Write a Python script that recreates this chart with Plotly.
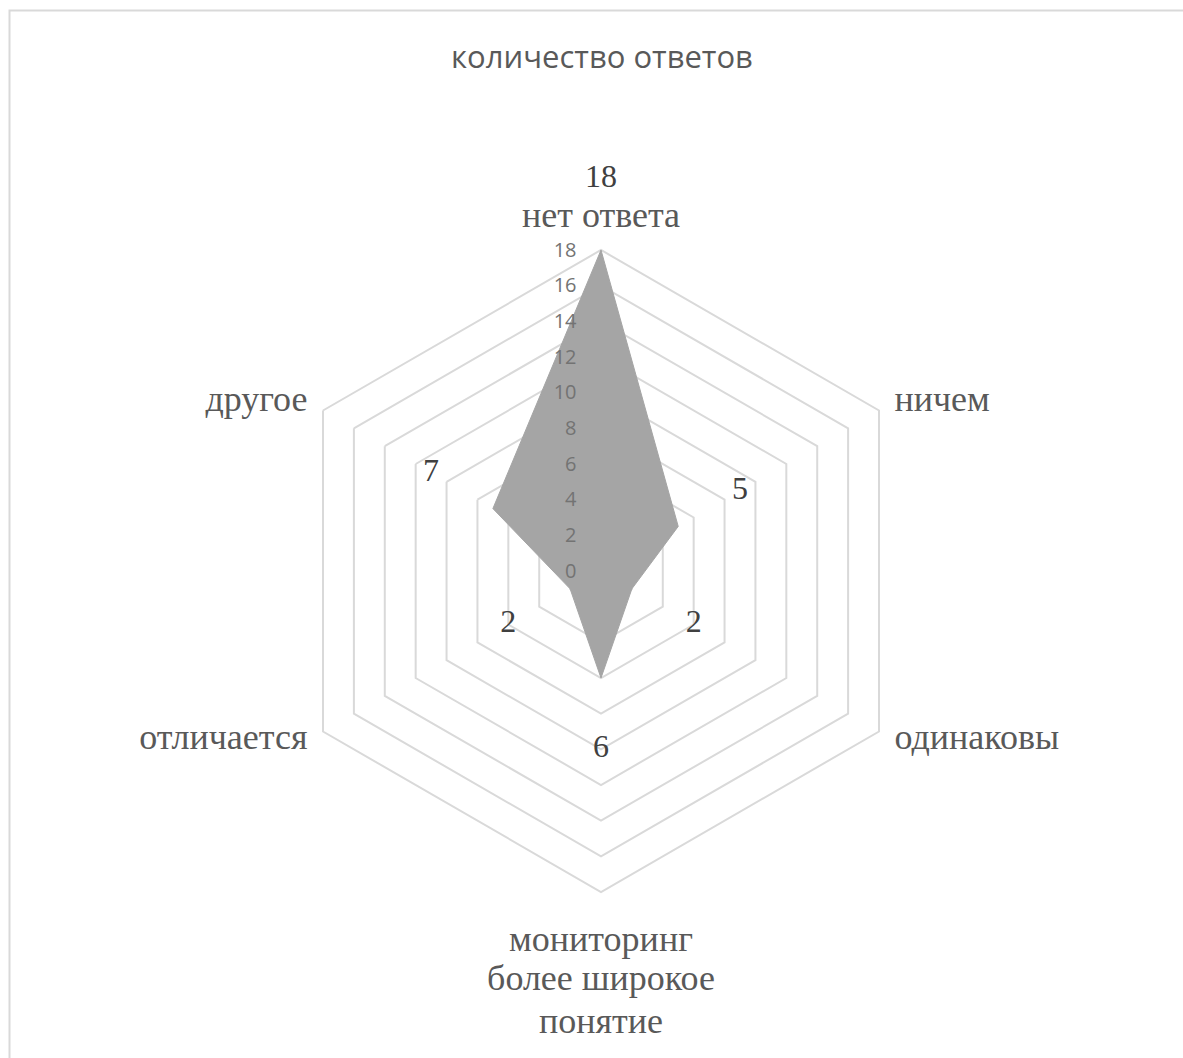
import plotly.graph_objects as go

categories = ["нет ответа", "ничем", "одинаковы", "мониторинг более широкое понятие", "отличается", "другое"]
values = [18, 5, 2, 6, 2, 7]
radial_ticks = [0, 2, 4, 6, 8, 10, 12, 14, 16, 18]
title_text = "количество ответов"

# category label lines (the bottom category is wrapped over three lines)
label_theta = ["нет ответа", "ничем", "одинаковы",
               "мониторинг более широкое понятие", "мониторинг более широкое понятие", "мониторинг более широкое понятие",
               "отличается", "другое"]
label_text = ["нет ответа", "ничем", "одинаковы", "мониторинг", "более широкое", "понятие", "отличается", "другое"]
# label placement (radial units / anchors) -- styling, not data
label_r = [19.8, 19.0, 19.0, 20.8, 23.0, 25.4, 19.0, 19.0]
label_pos = ["middle center", "middle right", "middle right", "middle center", "middle center", "middle center",
             "middle left", "middle left"]
value_label_offset = 4.0

fig = go.Figure()

fig.add_trace(go.Scatterpolar(
    r=values + [values[0]],
    theta=categories + [categories[0]],
    mode="lines",
    fill="toself",
    fillcolor="#A5A5A5",
    line=dict(color="#A5A5A5", width=1),
    hoverinfo="skip",
    showlegend=False,
))

# value labels
fig.add_trace(go.Scatterpolar(
    r=[v + value_label_offset for v in values],
    theta=categories,
    mode="text",
    text=[str(v) for v in values],
    textfont=dict(family="Liberation Serif", size=32, color="#404040"),
    textposition="middle center",
    cliponaxis=False,
    hoverinfo="skip",
    showlegend=False,
))

# category labels
fig.add_trace(go.Scatterpolar(
    r=label_r,
    theta=label_theta,
    mode="text",
    text=label_text,
    textfont=dict(family="Liberation Serif", size=36, color="#595959"),
    textposition=label_pos,
    cliponaxis=False,
    hoverinfo="skip",
    showlegend=False,
))

W, H = 1183, 1058
cx, cy, R18 = 601, 571, 321
rmax = 26
R = R18 * rmax / 18

fig.update_layout(
    width=W, height=H,
    margin=dict(l=0, r=0, t=0, b=0),
    paper_bgcolor="white",
    plot_bgcolor="white",
    showlegend=False,
    title=dict(text=title_text, x=602 / W, xanchor="center", y=1 - 57 / H, yanchor="middle",
               font=dict(family="Open Sans", size=31, color="#595959")),
    polar=dict(
        domain=dict(x=[(cx - R) / W, (cx + R) / W], y=[(H - cy - R) / H, (H - cy + R) / H]),
        bgcolor="rgba(0,0,0,0)",
        gridshape="linear",
        radialaxis=dict(
            range=[0, rmax],
            tickvals=radial_ticks,
            ticktext=[str(t) for t in radial_ticks],
            showline=False,
            ticks="outside",
            ticklen=17,
            tickcolor="rgba(0,0,0,0)",
            showgrid=True,
            gridcolor="#D9D9D9",
            gridwidth=2,
            angle=90,
            tickangle=90,
            side="counterclockwise",
            tickfont=dict(family="Open Sans", size=20, color="#737373"),
        ),
        angularaxis=dict(
            direction="clockwise",
            rotation=90,
            showgrid=False,
            showline=False,
            ticks="",
            showticklabels=False,
        ),
    ),
    shapes=[dict(type="rect", xref="paper", yref="paper",
                 x0=9.5 / W, x1=1.05, y0=-0.05, y1=1 - 10.5 / H,
                 line=dict(color="#D9D9D9", width=2), fillcolor="rgba(0,0,0,0)", layer="below")],
)

fig.write_html("out.html", post_script="document.body.style.margin='0';",
               config={"displayModeBar": False})
